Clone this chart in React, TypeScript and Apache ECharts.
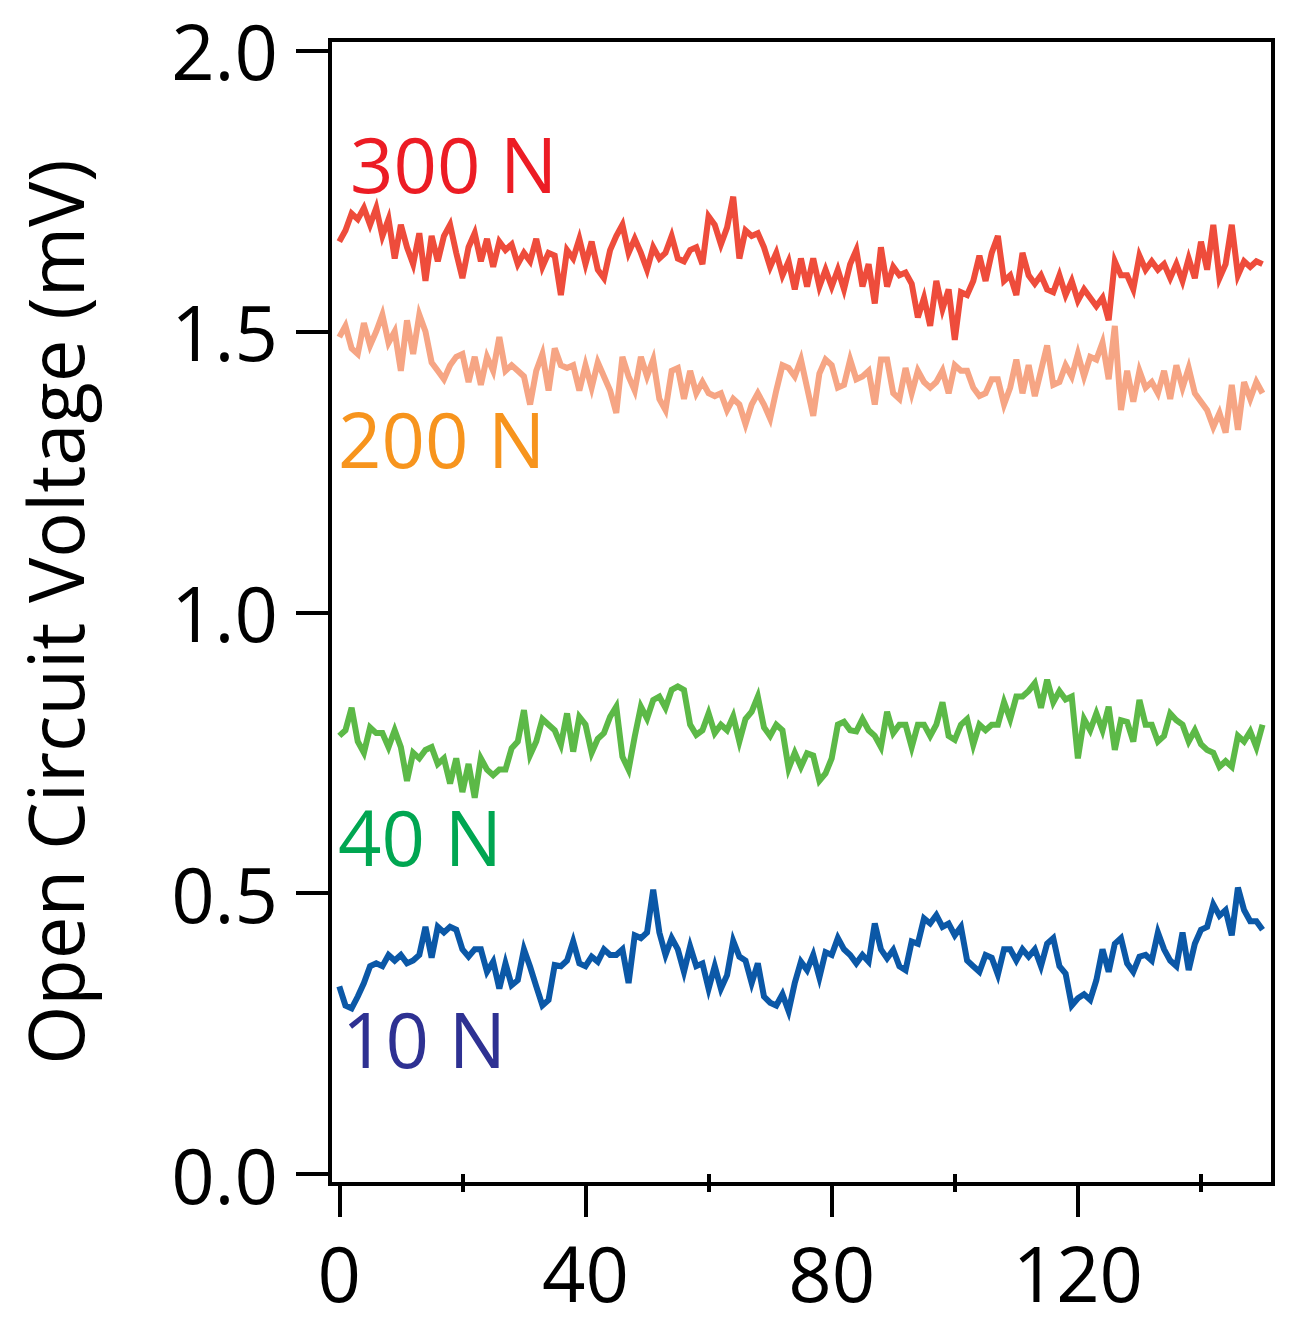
import React, { useEffect, useRef } from "react";
import * as echarts from "echarts";

// Sample times (s) are 0, 1, 2, ... 150 — one sample per unit of the x axis.
const TIME_STEP = 1;

const xMajorTicks = [0, 40, 80, 120];
const xMinorTicks = [20, 60, 100, 140];
const yTicks = [0, 0.5, 1.0, 1.5, 2.0];

const v300N = [
  1.66, 1.68, 1.71, 1.70, 1.72, 1.69, 1.72, 1.67, 1.70, 1.63,
  1.69, 1.65, 1.62, 1.675, 1.59, 1.67, 1.625, 1.67, 1.69, 1.64,
  1.595, 1.65, 1.675, 1.625, 1.665, 1.615, 1.66, 1.645, 1.655, 1.62,
  1.64, 1.625, 1.665, 1.615, 1.64, 1.635, 1.565, 1.645, 1.63, 1.665,
  1.62, 1.66, 1.61, 1.595, 1.645, 1.67, 1.69, 1.64, 1.665, 1.64,
  1.61, 1.65, 1.63, 1.64, 1.67, 1.63, 1.625, 1.645, 1.65, 1.62,
  1.705, 1.69, 1.655, 1.685, 1.74, 1.63, 1.68, 1.67, 1.675, 1.65,
  1.615, 1.64, 1.60, 1.625, 1.575, 1.63, 1.58, 1.63, 1.58, 1.61,
  1.58, 1.61, 1.575, 1.62, 1.645, 1.58, 1.62, 1.55, 1.65, 1.58,
  1.615, 1.60, 1.605, 1.585, 1.525, 1.56, 1.51, 1.59, 1.54, 1.575,
  1.485, 1.57, 1.565, 1.59, 1.635, 1.59, 1.64, 1.67, 1.59, 1.60,
  1.565, 1.64, 1.60, 1.585, 1.60, 1.575, 1.57, 1.60, 1.565, 1.59,
  1.555, 1.575, 1.56, 1.545, 1.56, 1.52, 1.625, 1.60, 1.60, 1.575,
  1.635, 1.61, 1.625, 1.61, 1.62, 1.595, 1.62, 1.59, 1.63, 1.595,
  1.66, 1.61, 1.69, 1.595, 1.62, 1.69, 1.60, 1.625, 1.615, 1.625,
  1.62,
];

const v200N = [
  1.49, 1.51, 1.47, 1.46, 1.515, 1.475, 1.50, 1.53, 1.48, 1.50,
  1.43, 1.52, 1.46, 1.53, 1.50, 1.445, 1.43, 1.415, 1.44, 1.455,
  1.46, 1.41, 1.455, 1.405, 1.455, 1.43, 1.49, 1.43, 1.44, 1.43,
  1.42, 1.37, 1.43, 1.46, 1.395, 1.47, 1.44, 1.435, 1.44, 1.395,
  1.44, 1.40, 1.445, 1.42, 1.395, 1.355, 1.455, 1.42, 1.395, 1.455,
  1.42, 1.45, 1.38, 1.36, 1.43, 1.435, 1.38, 1.43, 1.39, 1.41,
  1.39, 1.385, 1.39, 1.36, 1.38, 1.37, 1.335, 1.37, 1.39, 1.37,
  1.345, 1.395, 1.44, 1.435, 1.42, 1.45, 1.40, 1.35, 1.425, 1.45,
  1.44, 1.40, 1.405, 1.45, 1.415, 1.42, 1.43, 1.37, 1.45, 1.45,
  1.39, 1.38, 1.435, 1.39, 1.43, 1.41, 1.40, 1.41, 1.43, 1.39,
  1.44, 1.43, 1.43, 1.40, 1.385, 1.39, 1.415, 1.415, 1.37, 1.40,
  1.45, 1.39, 1.44, 1.385, 1.43, 1.475, 1.405, 1.41, 1.44, 1.42,
  1.46, 1.42, 1.455, 1.45, 1.48, 1.415, 1.51, 1.36, 1.43, 1.375,
  1.43, 1.40, 1.41, 1.39, 1.43, 1.38, 1.44, 1.40, 1.435, 1.39,
  1.375, 1.36, 1.33, 1.355, 1.32, 1.405, 1.325, 1.41, 1.38, 1.41,
  1.39,
];

const v40N = [
  0.78, 0.79, 0.83, 0.77, 0.75, 0.795, 0.785, 0.785, 0.76, 0.79,
  0.76, 0.70, 0.75, 0.74, 0.755, 0.76, 0.73, 0.74, 0.695, 0.74,
  0.68, 0.73, 0.67, 0.74, 0.72, 0.71, 0.72, 0.72, 0.758, 0.77,
  0.826, 0.746, 0.77, 0.81, 0.80, 0.79, 0.764, 0.82, 0.752, 0.814,
  0.80, 0.75, 0.775, 0.785, 0.814, 0.832, 0.743, 0.72, 0.779, 0.832,
  0.811, 0.844, 0.85, 0.83, 0.862, 0.868, 0.862, 0.80, 0.782, 0.79,
  0.82, 0.785, 0.80, 0.79, 0.815, 0.77, 0.81, 0.823, 0.85, 0.795,
  0.78, 0.80, 0.79, 0.722, 0.75, 0.725, 0.749, 0.745, 0.70, 0.713,
  0.74, 0.80, 0.805, 0.79, 0.788, 0.81, 0.79, 0.78, 0.76, 0.823,
  0.785, 0.80, 0.80, 0.76, 0.80, 0.80, 0.78, 0.80, 0.84, 0.78,
  0.773, 0.80, 0.81, 0.764, 0.80, 0.79, 0.80, 0.80, 0.84, 0.81,
  0.85, 0.85, 0.86, 0.874, 0.83, 0.88, 0.84, 0.86, 0.845, 0.85,
  0.74, 0.81, 0.79, 0.82, 0.79, 0.832, 0.755, 0.808, 0.805, 0.77,
  0.844, 0.80, 0.80, 0.77, 0.78, 0.82, 0.808, 0.80, 0.77, 0.79,
  0.765, 0.755, 0.75, 0.725, 0.735, 0.725, 0.78, 0.77, 0.788, 0.76,
  0.80,
];

const v10N = [
  0.334, 0.30, 0.295, 0.316, 0.34, 0.37, 0.375, 0.37, 0.39, 0.38,
  0.39, 0.375, 0.38, 0.39, 0.44, 0.385, 0.44, 0.43, 0.44, 0.435,
  0.40, 0.387, 0.40, 0.40, 0.36, 0.378, 0.33, 0.375, 0.336, 0.345,
  0.40, 0.369, 0.334, 0.30, 0.31, 0.372, 0.37, 0.38, 0.414, 0.375,
  0.37, 0.387, 0.378, 0.40, 0.39, 0.39, 0.40, 0.34, 0.425, 0.42,
  0.43, 0.506, 0.43, 0.39, 0.42, 0.40, 0.36, 0.405, 0.37, 0.375,
  0.33, 0.37, 0.33, 0.354, 0.415, 0.387, 0.38, 0.34, 0.375, 0.316,
  0.305, 0.30, 0.32, 0.29, 0.34, 0.378, 0.363, 0.39, 0.35, 0.395,
  0.39, 0.42, 0.40, 0.39, 0.375, 0.39, 0.378, 0.446, 0.40, 0.384,
  0.399, 0.37, 0.363, 0.414, 0.41, 0.455, 0.446, 0.461, 0.44, 0.446,
  0.425, 0.44, 0.38, 0.37, 0.36, 0.39, 0.385, 0.355, 0.40, 0.40,
  0.38, 0.40, 0.387, 0.40, 0.37, 0.41, 0.42, 0.37, 0.357, 0.30,
  0.313, 0.32, 0.31, 0.345, 0.40, 0.36, 0.41, 0.42, 0.375, 0.36,
  0.387, 0.39, 0.38, 0.43, 0.40, 0.38, 0.37, 0.43, 0.363, 0.41,
  0.435, 0.44, 0.48, 0.46, 0.47, 0.425, 0.51, 0.47, 0.45, 0.45,
  0.435,
];

const seriesNames = ["300 N", "200 N", "40 N", "10 N"];
const lineColors = ["#ee4c3b", "#f6a584", "#5cb947", "#0b58a7"];
const labelColors = ["#ec1c24", "#f7941d", "#00a651", "#2e3192"];

const FONT = "'Open Sans', 'Noto Sans', sans-serif";

function toPairs(values: number[]) {
  return values.map((v, i) => [i * TIME_STEP, v]);
}

export default function App() {
  const ref = useRef<HTMLDivElement>(null);

  useEffect(() => {
    if (!ref.current) return;
    const chart = echarts.init(ref.current, null, { renderer: "svg" });
    const allValues = [v300N, v200N, v40N, v10N];

    const labelPos = [
      { x: 350, y: 163 },
      { x: 338, y: 438 },
      { x: 338, y: 836 },
      { x: 342, y: 1038 },
    ];

    chart.setOption({
      animation: false,
      backgroundColor: "#ffffff",
      grid: {
        left: 330,
        right: 22,
        top: 40,
        bottom: 139,
        show: true,
        borderColor: "#000",
        borderWidth: 4,
        containLabel: false,
        outerBoundsMode: "none",
      },
      xAxis: [
        {
          type: "value",
          min: -1.51,
          max: 151.7,
          position: "bottom",
          axisLine: { show: true, onZero: false, lineStyle: { color: "#000", width: 4 } },
          axisTick: {
            show: true,
            inside: false,
            length: 33,
            customValues: xMajorTicks,
            lineStyle: { color: "#000", width: 4 },
          },
          axisLabel: {
            show: true,
            customValues: xMajorTicks,
            margin: 50,
            fontSize: 76,
            lineHeight: 76,
            fontFamily: FONT,
            color: "#000",
          },
          splitLine: { show: false },
        },
        {
          type: "value",
          min: -1.51,
          max: 151.7,
          position: "bottom",
          axisLine: { show: false },
          axisTick: {
            show: true,
            inside: false,
            length: 18,
            customValues: xMinorTicks,
            lineStyle: { color: "#000", width: 4 },
          },
          axisLabel: { show: false },
          splitLine: { show: false },
        },
      ],
      yAxis: {
        type: "value",
        min: -0.0178,
        max: 2.019,
        name: "Open Circuit Voltage (mV)",
        nameLocation: "middle",
        nameGap: 238,
        nameTextStyle: { fontSize: 76, lineHeight: 76, fontFamily: FONT, color: "#000" },
        axisLine: { show: true, onZero: false, lineStyle: { color: "#000", width: 4 } },
        axisTick: {
          show: true,
          inside: false,
          length: 34,
          customValues: yTicks,
          lineStyle: { color: "#000", width: 4 },
        },
        axisLabel: {
          show: true,
          customValues: yTicks,
          formatter: (v: number) => v.toFixed(1),
          margin: 52,
          fontSize: 76,
          fontFamily: FONT,
          color: "#000",
        },
        splitLine: { show: false },
      },
      series: allValues.map((vals, i) => ({
        type: "line",
        name: seriesNames[i],
        xAxisIndex: 0,
        data: toPairs(vals),
        showSymbol: false,
        symbol: "none",
        lineStyle: { color: lineColors[i], width: 6, join: "miter" },
        z: 3,
      })),
      graphic: seriesNames.map((name, i) => ({
        type: "text",
        x: labelPos[i].x,
        y: labelPos[i].y,
        z: 10,
        style: {
          text: name,
          fill: labelColors[i],
          fontSize: 76,
          fontFamily: FONT,
          verticalAlign: "middle",
          align: "left",
        },
      })),
    });

    return () => chart.dispose();
  }, []);

  return (
    <div
      ref={ref}
      style={{ position: "absolute", left: 0, top: 0, width: 1295, height: 1323 }}
    />
  );
}
